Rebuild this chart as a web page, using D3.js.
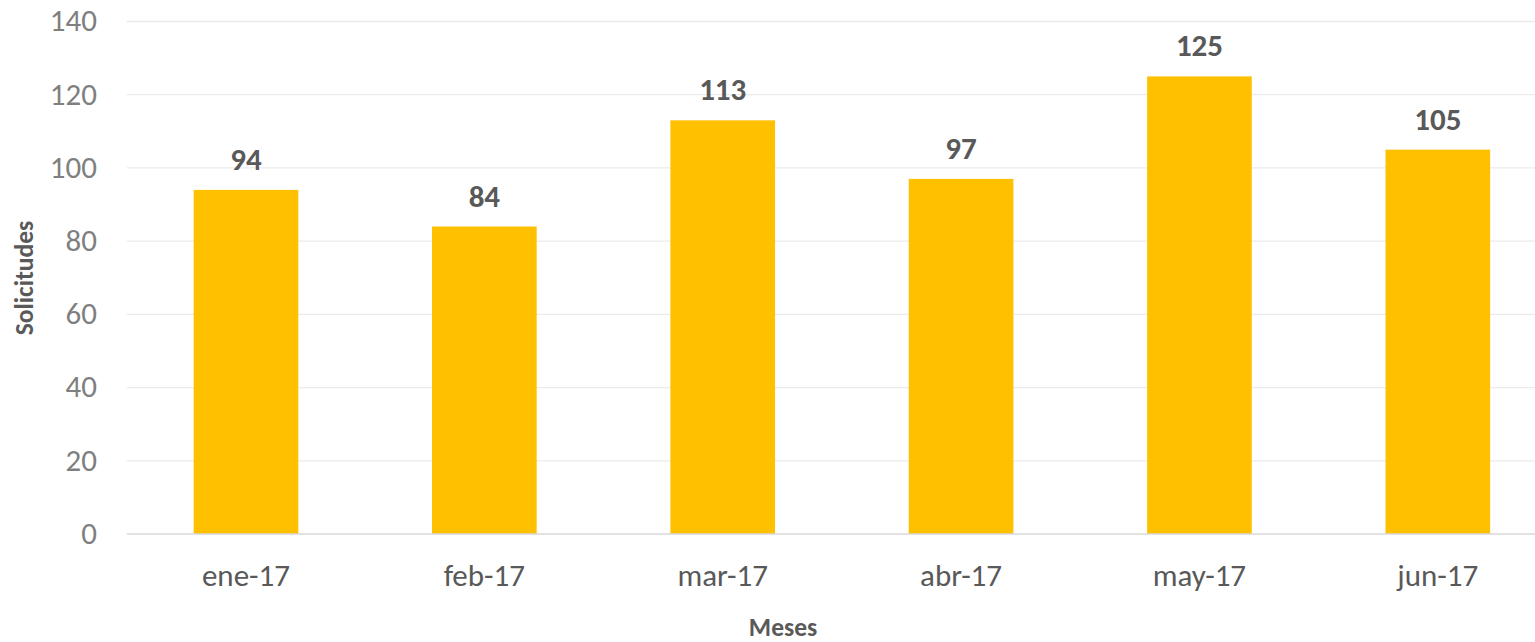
<!DOCTYPE html>
<html>
<head>
<meta charset="utf-8">
<script src="https://cdn.jsdelivr.net/npm/d3@7/dist/d3.min.js"></script>
<style>
  html, body { margin: 0; padding: 0; background: #fff; }
  svg { display: block; }
  text { font-family: Carlito, Calibri, "Open Sans", sans-serif; }
</style>
</head>
<body>
<svg id="chart" width="1535" height="642"></svg>
<script>
const months = ["ene-17", "feb-17", "mar-17", "abr-17", "may-17", "jun-17"];
const solicitudes = [94, 84, 113, 97, 125, 105];
const yTicks = [0, 20, 40, 60, 80, 100, 120, 140];
const yTitle = "Solicitudes";
const xTitle = "Meses";

(function () {
const svg = d3.select("#chart");
const W = 1535;
const plotLeft = 126.8, plotRight = 1557, plotTop = 21.5, plotBottom = 534;

const x = d3.scaleBand().domain(months).range([plotLeft, plotRight]).paddingInner(0.561).paddingOuter(0.2805);
const y = d3.scaleLinear().domain([0, 140]).range([plotBottom, plotTop]);

// gridlines
svg.append("g").selectAll("line").data(yTicks.filter(d => d !== 0)).join("line")
  .attr("x1", plotLeft).attr("x2", W)
  .attr("y1", d => y(d)).attr("y2", d => y(d))
  .attr("stroke", "#ebebeb").attr("stroke-width", 1.3);

// bars
svg.append("g").selectAll("rect").data(months).join("rect")
  .attr("x", d => x(d))
  .attr("width", x.bandwidth())
  .attr("y", (d, i) => y(solicitudes[i]))
  .attr("height", (d, i) => y(0) - y(solicitudes[i]))
  .attr("fill", "#FFC000");

// zero axis line
svg.append("line").attr("x1", plotLeft).attr("x2", W)
  .attr("y1", y(0)).attr("y2", y(0))
  .attr("stroke", "#d9d9d9").attr("stroke-width", 1.5);

// y tick labels
svg.append("g").selectAll("text").data(yTicks).join("text")
  .attr("x", 97).attr("y", d => y(d)).attr("dy", "0.32em")
  .attr("text-anchor", "end")
  .attr("font-size", 31).attr("fill", "#7f7f7f")
  .text(d => d);

// x labels
svg.append("g").selectAll("text").data(months).join("text")
  .attr("x", d => x(d) + x.bandwidth() / 2).attr("y", 585.5)
  .attr("text-anchor", "middle")
  .attr("font-size", 31).attr("fill", "#595959")
  .text(d => d);

// data labels
svg.append("g").selectAll("text").data(months).join("text")
  .attr("x", d => x(d) + x.bandwidth() / 2)
  .attr("y", (d, i) => y(solicitudes[i]) - 20)
  .attr("text-anchor", "middle")
  .attr("font-size", 31).attr("font-weight", "bold").attr("fill", "#595959")
  .text((d, i) => solicitudes[i]);

// axis titles
svg.append("text")
  .attr("transform", "translate(33,278) rotate(-90)")
  .attr("text-anchor", "middle")
  .attr("font-size", 25.5).attr("font-weight", "bold").attr("fill", "#595959")
  .text(yTitle);

svg.append("text")
  .attr("x", 783).attr("y", 635.5)
  .attr("text-anchor", "middle")
  .attr("font-size", 25.5).attr("font-weight", "bold").attr("fill", "#595959")
  .text(xTitle);
})();
</script>
</body>
</html>
